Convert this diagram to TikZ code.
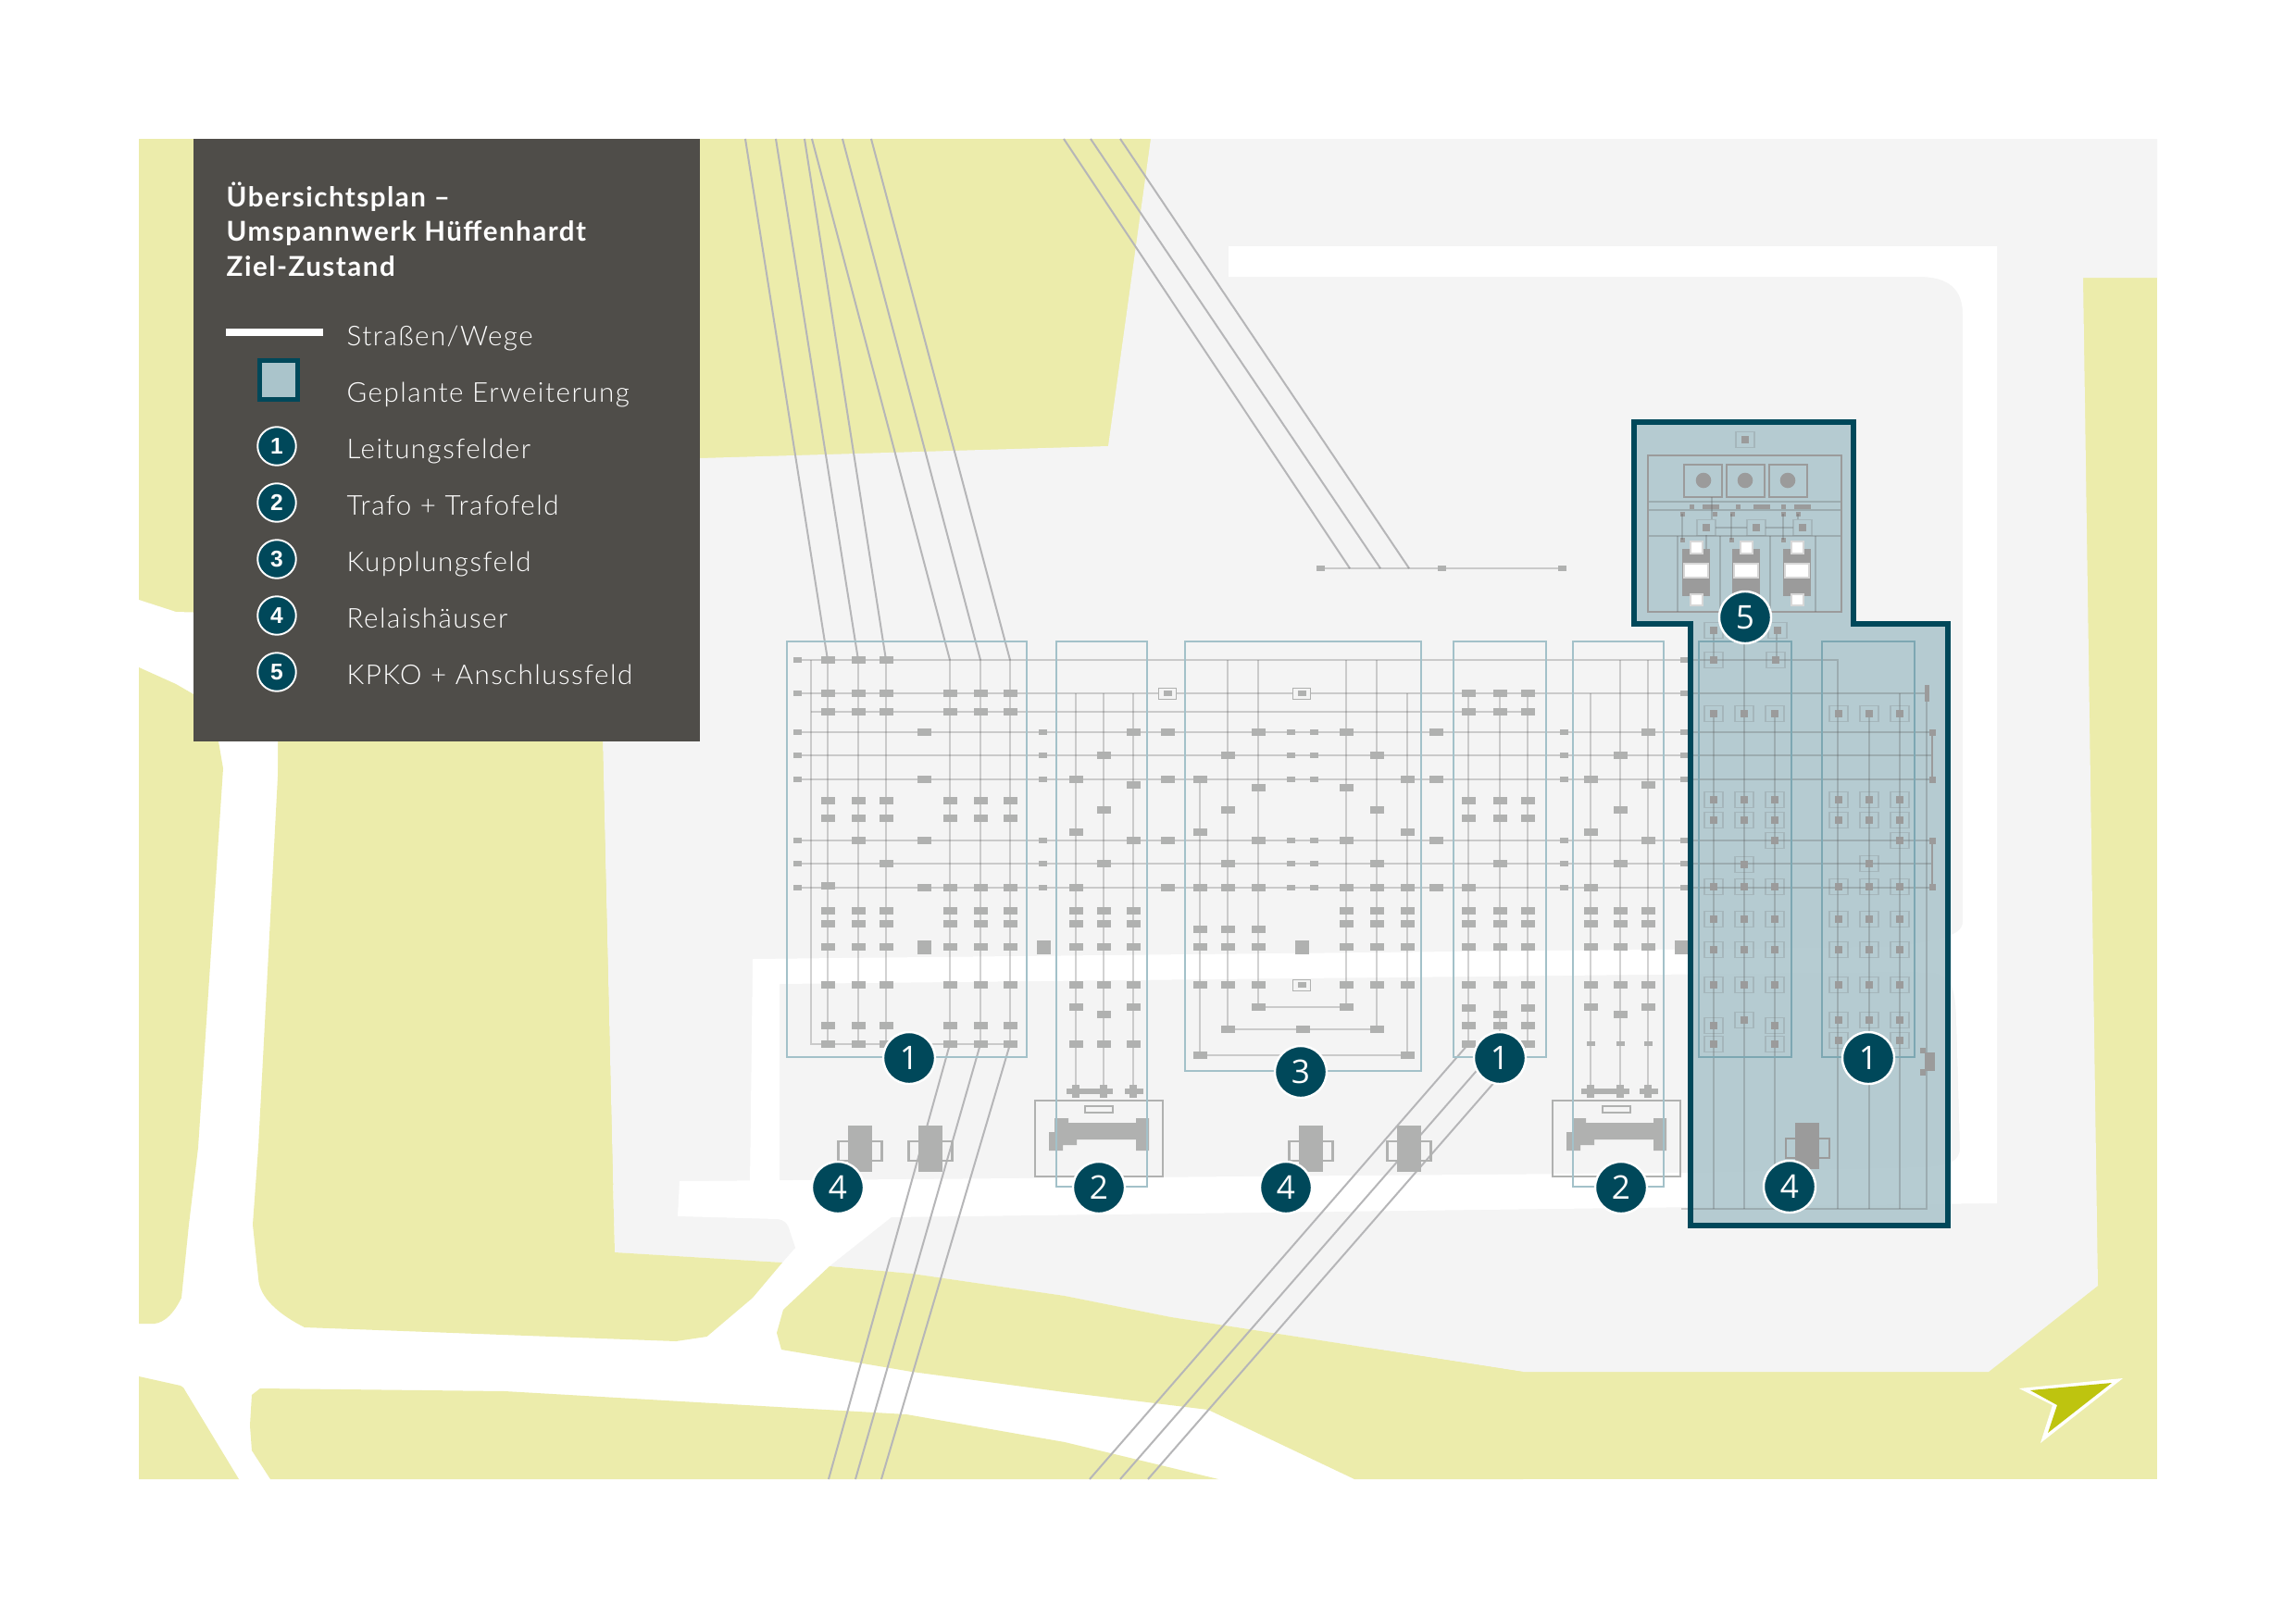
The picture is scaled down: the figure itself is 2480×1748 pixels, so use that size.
\documentclass[tikz,border=0pt]{standalone}
\usepackage{fontspec}
\setmainfont{Lato}
\newfontfamily\lreg[LetterSpace=5]{Lato Light}
\newfontfamily\lbold[LetterSpace=5]{Lato Bold}
\newfontfamily\lbadge{Open Sans}
\newfontfamily\larial{Liberation Sans}
\definecolor{yel}{HTML}{ECECAB}
\definecolor{gnd}{HTML}{F4F4F4}
\definecolor{teal}{HTML}{00485A}
\definecolor{ext}{HTML}{AAC4CB}
\definecolor{fld}{HTML}{A3C1C9}
\definecolor{flddk}{HTML}{7DA7B2}
\definecolor{boxc}{HTML}{B0B1B0}
\definecolor{boxd}{HTML}{9B9B9B}
\definecolor{lgd}{HTML}{4F4D49}
\definecolor{arrowg}{HTML}{BEC40F}
\definecolor{ohl}{HTML}{B6B6B8}
\tikzset{
  ln/.style={draw=black!65,draw opacity=.27,line width=.55pt},
  ohline/.style={draw=ohl,line width=.57pt},
  fieldbox/.style={draw=fld,line width=.55pt},
  framebox/.style={draw=black!60,draw opacity=.2,line width=.5pt},
  outl/.style={draw=boxc,line width=.6pt},
  dkl/.style={draw=boxd,line width=.6pt},
  badge/.style={circle,inner sep=0pt,minimum size=.56cm,fill=teal,draw=white,line width=.7pt,text=white,font=\lbadge\fontsize{10}{10}\selectfont},
  lbadge/.style={circle,inner sep=0pt,minimum size=.415cm,fill=teal,draw=white,line width=.55pt,text=white,font=\larial\bfseries\fontsize{7}{7}\selectfont},
  ltxt/.style={anchor=base west,inner sep=0pt,text=white,font=\lreg\fontsize{8.4}{8.4}\selectfont},
  ttl/.style={anchor=base west,inner sep=0pt,text=white,font=\lbold\fontsize{8.4}{8.4}\selectfont},
}
\newcommand\bx[2]{\fill[boxc] (#1-7.5,#2-3.7) rectangle (#1+7.5,#2+3.7);}
\newcommand\sx[2]{\fill[boxc] (#1-4.5,#2-2.7) rectangle (#1+4.5,#2+2.7);}
\newcommand\tl[2]{\fill[boxc] (#1-7.5,#2-7.5) rectangle (#1+7.5,#2+7.5);}
\newcommand\fx[2]{\fill[boxc] (#1-10,#2-6.5) rectangle (#1+10,#2+6.5);\fill[gnd] (#1-9,#2-5.5) rectangle (#1+9,#2+5.5);\fill[boxc] (#1-4.5,#2-3) rectangle (#1+4.5,#2+3);}
\newcommand\fr[2]{\draw[framebox] (#1-10,#2-8.5) rectangle (#1+10,#2+8.5);\fill[boxd] (#1-4,#2-4) rectangle (#1+4,#2+4);}
\newcommand\relay[3]{\draw[outl] (#1-23.5,#2+17) rectangle (#1+23.5,#2+38);\fill[#3] (#1-13,#2) rectangle (#1+13,#2+50);}
\newcommand\trafo[1]{\begin{scope}[shift={(#1,0)}]
 \draw[outl] (1118,1189) rectangle (1256,1271);
 \draw[outl] (1172,1195) rectangle (1202,1202);
 \fill[boxc] (1139,1208)--(1154,1208)--(1154,1213)--(1227,1213)--(1227,1208)--(1241,1208)--(1241,1243)--(1227,1243)--(1227,1231)--(1163,1231)--(1163,1237)--(1148,1237)--(1148,1243)--(1133,1243)--(1133,1223)--(1139,1223)--cycle;
\end{scope}}
\newcommand\kp[1]{\begin{scope}[shift={(#1,0)}]
 \fill[boxd] (1817,593) rectangle (1847,644);
 \draw[white!60!boxd,line width=.4pt,fill=white] (1819,609) rectangle (1845,624);
 \draw[white!60!boxd,line width=.4pt,fill=white] (1826,585) rectangle (1839,598);
 \draw[white!60!boxd,line width=.4pt,fill=white] (1826,642) rectangle (1839,654);
\end{scope}}
\begin{document}
\begin{tikzpicture}[x=.01cm,y=-.01cm]
\useasboundingbox (0,0) rectangle (2480,1748);
\fill[white] (0,0) rectangle (2480,1748);
% landscape
\fill[yel] (150,150) rectangle (2330,1598);
\fill[white] (150,648)--(190,661)--(300,664)--(300,1280)--(1480,1280)--(1480,1598)--(150,1598)--cycle;
\fill[gnd] (1243,150)--(2330,150)--(2330,300)--(2250,300)--(2266,1389)--(2148,1482)--(1645,1482)--(1265,1423)--(1150,1400)--(985,1376)--(896,1368)--(963,1315)--(963,1300)--(839,1300)--(839,1317) .. controls (848,1318) and (851,1322) .. (853,1330) -- (859,1348)--(845,1364)--(664,1353)--(651,801)--(651,498)--(756,495)--(1197,482)--cycle;
% roads
\fill[white] (1327,266)--(2157,266)--(2157,1100)--(2120,1100)--(2120,340) .. controls (2120,312) and (2105,299) .. (2072,299)--(1327,299)--cycle;
\fill[white] (813,1036)--(2047,1023) .. controls (2090,1016) and (2120,1012) .. (2120,996)--(2157,996)--(2157,1060)--(2100,1052)--(2063,1050)--(842,1063)--(842,1280)--(810,1280)--cycle;
\fill[white] (734,1276)--(1830,1267)--(2080,1261) .. controls (2105,1259) and (2117,1255) .. (2117,1240)--(2113,1100) .. controls (2112,1070) and (2108,1053) .. (2090,1052)--(2157,1052)--(2157,1300)--(963,1315)--(839,1317)--(732,1314)--cycle;
% green patches
\fill[yel] (150,721)--(190,739)--(209,750)--(236,801)--(241,830)--(214,1240)--(204,1323)--(196,1402) .. controls (185,1425) and (172,1431) .. (163,1430)--(150,1430)--cycle;
\fill[yel] (302,801)--(651,801)--(661,1240)--(664,1353)--(845,1364)--(813,1402)--(763.5,1444)--(730,1449)--(329,1434) .. controls (305,1422) and (283,1405) .. (279.5,1385) --(273,1323)--(279,1240)--cycle;
\fill[yel] (150,1487)--(195,1497)--(198,1499)--(258,1598)--(150,1598)--cycle;
\fill[yel] (281,1500)--(545,1503)--(979,1528)--(1150,1558)--(1316,1598)--(292,1598)--(272,1567)--(270,1540)--(272,1507)--cycle;
\fill[yel] (846,1415)--(896,1368)--(985,1376)--(1150,1400)--(1265,1423)--(1645,1482)--(1645,1598)--(1463,1598)--(1305,1523)--(1150,1504)--(985,1482)--(844,1458)--(839,1440)--cycle;
% extension fill
\fill[ext,fill opacity=.85] (1765,456)--(2002,456)--(2002,674)--(2104,674)--(2104,1324)--(1826,1324)--(1826,674)--(1765,674)--cycle;
% overhead lines
\foreach \a/\b in {805/894,838/927,869/957,877/1026,910/1059,941/1091}{\draw[ohline] (\a,150)--(\b,713);}
\draw[ohline] (1149,150)--(1458,614);\draw[ohline] (1178,150)--(1491,614);\draw[ohline] (1210,150)--(1522,614);
\draw[ln] (1426,614)--(1687,614);
\foreach \x in {1426,1557,1687}{\sx{\x}{614}}
\draw[ohline] (1026,1128)--(895,1598);\draw[ohline] (1059,1128)--(924,1598);\draw[ohline] (1091,1128)--(952,1598);
\draw[ohline] (1586,1128)--(1177,1598);\draw[ohline] (1620,1128)--(1210,1598);\draw[ohline] (1650,1128)--(1240,1598);
% busbars
\draw[ln] (861,713)--(1985,713)--(1985,1306);
\draw[ln] (861,749)--(2081,749);
\draw[ln] (876,769)--(1650,769);
\foreach \y in {791,816,842,908,933,959}{\draw[ln] (861,\y)--(2087,\y);}
\draw[ln] (1816,1306)--(2081,1306)--(2081,749);
\draw[ln] (876,713)--(876,1128)--(1091,1128);
% field 1
\foreach \x in {894,927,957,1026,1059,1091}{\draw[ln] (\x,713)--(\x,1128);
 \foreach \y in {749,769,865,884,984,998,1023,1064,1108,1128}{\bx{\x}{\y}}}
\foreach \x in {894,927,957}{\bx{\x}{713}}
\bx{894}{957}\bx{927}{908}\bx{957}{933}
\foreach \x in {1026,1059,1091}{\bx{\x}{959}}
\foreach \y in {791,842,908,959}{\bx{998}{\y}}
\tl{998}{1023}
\foreach \y in {713,749,791,816,842,908,933,959}{\sx{861}{\y}}
\foreach \y in {791,816,842,908,933,959}{\sx{1126}{\y}\sx{1689}{\y}}
\foreach \y in {713,749,791,816,842,908,933,959}{\fill[boxc] (1815,\y-2.7) rectangle (1826,\y+2.7);}
\tl{1127}{1023}
\fill[boxc] (1809,1016) rectangle (1826,1031);
% field 2 and field 5
\draw[ln] (1162,749)--(1162,1186);\draw[ln] (1192,749)--(1192,1186);\draw[ln] (1224,749)--(1224,1186);
\draw[ln] (1718,749)--(1718,1186);\draw[ln] (1750,713)--(1750,1186);\draw[ln] (1780,713)--(1780,1186);
\foreach \x in {1162,1192,1224,1718,1750,1780}{\foreach \y in {984,998,1023,1064}{\bx{\x}{\y}}}
\foreach \x in {1162,1192,1224}{\bx{\x}{1128}}
\foreach \x in {1718,1750,1780}{\fill[boxc] (\x-4.5,1125) rectangle (\x+4.5,1130);}
\foreach \a/\b in {1162/842,1162/899,1162/959,1162/1088,1192/816,1192/875,1192/933,1192/1096,1224/791,1224/848,1224/908,1224/1088,
 1718/842,1718/899,1718/959,1718/1088,1750/816,1750/875,1750/933,1750/1096,1780/791,1780/848,1780/908,1780/1088}{\bx{\a}{\b}}
\foreach \d/\e/\f/\g in {0/1162/1192/1224,559/1718/1750/1780}{
 \fill[boxc] (\e-10,1176) rectangle (\f+10,1182);
 \fill[boxc] (\g-9,1176) rectangle (\g+11,1182);
 \foreach \x in {\e,\f,\g}{\fill[boxc] (\x-4,1172) rectangle (\x+4,1186);}
 \trafo{\d}}
% field 3
\draw[ln] (1326,713)--(1326,1112)--(1487,1112)--(1487,713);
\draw[ln] (1359,713)--(1359,1088)--(1454,1088)--(1454,713);
\draw[ln] (1296,842)--(1296,1140)--(1520,1140)--(1520,749);
\foreach \a/\b in {1359/791,1359/908,1359/959,1359/851,1359/1004,1359/1023,1359/1064,1359/1088,
 1454/791,1454/908,1454/959,1454/851,1454/984,1454/998,1454/1023,1454/1064,1454/1088,
 1326/816,1326/875,1326/933,1326/959,1326/1004,1326/1023,1326/1064,1326/1112,
 1487/816,1487/875,1487/933,1487/959,1487/984,1487/998,1487/1023,1487/1064,1487/1112,
 1296/842,1296/899,1296/959,1296/1004,1296/1023,1296/1064,1296/1140,
 1520/842,1520/899,1520/959,1520/984,1520/998,1520/1023,1520/1064,1520/1140,1407/1112}{\bx{\a}{\b}}
\foreach \y in {791,816,842,908,933,959}{\sx{1394}{\y}\sx{1419}{\y}}
\foreach \y in {791,842,908,959}{\bx{1261}{\y}\bx{1551}{\y}}
\tl{1406}{1023}
\fx{1261}{749}\fx{1406}{749}\fx{1406}{1064}
% field 4
\foreach \x in {1586,1620,1650}{\draw[ln] (\x,749)--(\x,1128);
 \foreach \y in {749,769,865,884,984,998,1023,1064,1108,1128}{\bx{\x}{\y}}}
\bx{1586}{1089}\bx{1650}{1089}\bx{1620}{1096}\bx{1586}{959}\bx{1620}{933}
% relay houses
\relay{929}{1216}{boxc}\relay{1005}{1216}{boxc}\relay{1416}{1216}{boxc}\relay{1522}{1216}{boxc}
% expansion content
\draw[ln] (1851,771)--(1851,1306);\draw[ln] (1884,667)--(1884,1306);\draw[ln] (1917,771)--(1917,1306);
\draw[ln] (2019,771)--(2019,1306);\draw[ln] (2052,749)--(2052,1306);
\draw[ln] (1851,681)--(1851,713);\draw[ln] (1919,681)--(1919,713);
\foreach \x in {1851,1884,1917}{\foreach \y in {771,864,886,958,993,1026,1064}{\fr{\x}{\y}}}
\foreach \x in {1986,2019,2052}{\foreach \y in {771,864,886,958,993,1026,1064,1102}{\fr{\x}{\y}}}
\fr{1851}{681}\fr{1920}{681}\fr{1851}{713}\fr{1918}{713}
\fr{1917}{908}\fr{1884}{934}\fr{2052}{908}\fr{2019}{933}
\fr{1884}{1102}\fr{1851}{1108}\fr{1917}{1108}\fr{1851}{1128}\fr{1917}{1128}
\fr{1986}{1124}\fr{2052}{1124}
\draw[dkl] (2087,791)--(2087,842);\draw[dkl] (2087,908)--(2087,958);
\foreach \y in {791,842,908,958}{\fill[boxd] (2083.5,\y-3.5) rectangle (2090.5,\y+3.5);}
\fill[boxd] (2078.5,740) rectangle (2083.5,758);
\fill[boxd] (2074,1132) rectangle (2080,1138);\fill[boxd] (2074,1155) rectangle (2080,1162);
\fill[boxd] (2079,1137) rectangle (2090,1157);
\draw[dkl] (1929,1230) rectangle (1976,1251);
\fill[boxd] (1939,1213) rectangle (1965,1263);
% KPKO
\fr{1885}{475}
\draw[dkl] (1780,492) rectangle (1989,661);
\foreach \x in {1819,1865,1911}{\draw[dkl] (\x,502) rectangle (\x+41,537);}
\foreach \x in {1840,1885,1931}{\fill[boxd] (\x,519) circle (8.3);}
\draw[ln] (1781,542)--(1988,542);\draw[ln] (1781,551)--(1988,551);\draw[ln] (1781,579)--(1988,579);
\foreach \x in {1812,1858,1912,1961}{\draw[ln] (\x,579)--(\x,661);}
\foreach \x in {1827,1877,1926}{\fill[boxd] (\x-2.5,544.5) rectangle (\x+2.5,549.5);}
\foreach \x in {1839,1894,1938}{\fill[boxd] (\x,544.5) rectangle (\x+18,549.5);}
\foreach \x in {1817,1852,1871,1926,1942}{\fill[boxd] (\x-2.5,552.5) rectangle (\x+2.5,557.5);}
\foreach \x in {1817,1870,1926}{\fill[boxd] (\x-2.5,580.5) rectangle (\x+2.5,585.5);\draw[ln] (\x,555)--(\x,583);}
\draw[ln] (1849,537)--(1849,561);\draw[ln] (1942,555)--(1942,561);\draw[ln] (1843,578)--(1843,593);
\draw[ln] (1853,570)--(1887,570);\draw[ln] (1907,570)--(1937,570);
\fr{1843}{570}\fr{1897}{570}\fr{1947}{570}
\kp{0}\kp{54}\kp{109}
% field frames
\foreach \a/\b/\c in {850/1109/1142,1141/1239/1282,1280/1535/1157,1570/1670/1142,1699/1797/1282}{\draw[fieldbox] (\a,693) rectangle (\b,\c);}
\foreach \a/\b in {1835/1935,1968/2068}{\draw[fieldbox,draw=flddk,line width=.65pt] (\a,693) rectangle (\b,1142);}
% expansion outline
\draw[teal,line width=1.75pt,miter limit=4] (1765,456)--(2002,456)--(2002,674)--(2104,674)--(2104,1324)--(1826,1324)--(1826,674)--(1765,674)--cycle;
% badges
\node[badge] (n1) at (982,1143) {1};
\node[badge] (n2) at (905,1283) {4};
\node[badge] (n3) at (1187,1283) {2};
\node[badge] (n4) at (1405,1158) {3};
\node[badge] (n5) at (1389,1283) {4};
\node[badge] (n6) at (1620,1143) {1};
\node[badge] (n7) at (1751,1283) {2};
\node[badge] (n8) at (2018,1143) {1};
\node[badge] (n9) at (1933,1282) {4};
\node[badge] (n10) at (1885,667) {5};
% compass
\fill[white] (2181,1500)--(2293,1489)--(2204,1559)--(2217,1518)--cycle;
\fill[arrowg] (2193,1502)--(2281,1494)--(2212,1548)--(2222,1518)--cycle;
% legend
\fill[lgd] (209,150) rectangle (756,801);
\node[ttl] (t1) at (244,223) {Übersichtsplan –};
\node[ttl] (t2) at (244,260) {Umspannwerk Hüffenhardt};
\node[ttl] (t3) at (244,298) {Ziel-Zustand};
\fill[white] (244,355) rectangle (349,363);
\draw[teal,line width=1.3pt,fill=ext] (280.5,389.5) rectangle (321.5,431.5);
\node[lbadge] (l1) at (299,482) {1};
\node[lbadge] (l2) at (299,543) {2};
\node[lbadge] (l3) at (299,604) {3};
\node[lbadge] (l4) at (299,665) {4};
\node[lbadge] (l5) at (299,726) {5};
\node[ltxt] (x0) at (374,373) {Straßen/Wege};
\node[ltxt] (x1) at (374,434) {Geplante Erweiterung};
\node[ltxt] (x2) at (374,495) {Leitungsfelder};
\node[ltxt] (x3) at (374,556) {Trafo + Trafofeld};
\node[ltxt] (x4) at (374,617) {Kupplungsfeld};
\node[ltxt] (x5) at (374,678) {Relaishäuser};
\node[ltxt] (x6) at (374,739) {KPKO + Anschlussfeld};
\end{tikzpicture}
\end{document}
